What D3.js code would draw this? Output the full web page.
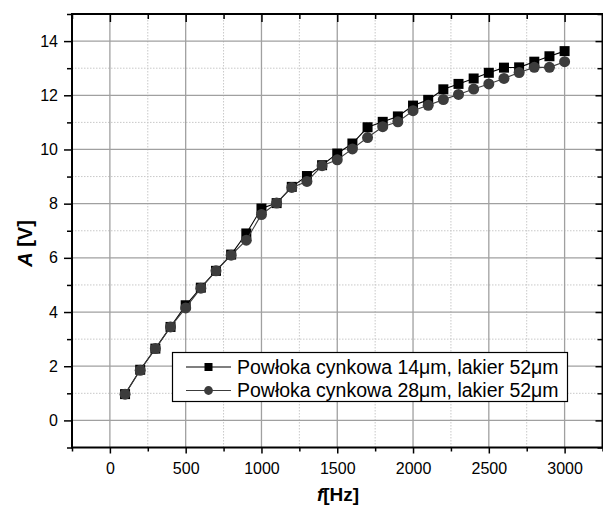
<!DOCTYPE html>
<html>
<head>
<meta charset="utf-8">
<script src="https://cdn.jsdelivr.net/npm/d3@7"></script>
<style>
  body { margin: 0; background: #fff; }
  svg { display: block; font-family: "Liberation Sans", Arial, sans-serif; }
</style>
</head>
<body>
<svg id="chart" width="603" height="506"></svg>
<script>
// Measured signal amplitude versus excitation frequency for two coatings
const frequencies = [100, 200, 300, 400, 500, 600, 700, 800, 900, 1000,
                     1100, 1200, 1300, 1400, 1500, 1600, 1700, 1800, 1900, 2000,
                     2100, 2200, 2300, 2400, 2500, 2600, 2700, 2800, 2900, 3000];
const zinc14 = [0.97, 1.87, 2.65, 3.45, 4.25, 4.90, 5.52, 6.12, 6.90, 7.82,
                8.02, 8.62, 9.02, 9.42, 9.85, 10.22, 10.82, 11.02, 11.22, 11.62,
                11.83, 12.22, 12.42, 12.62, 12.83, 13.02, 13.03, 13.24, 13.44, 13.63];
const zinc28 = [0.97, 1.85, 2.65, 3.45, 4.15, 4.88, 5.52, 6.10, 6.65, 7.60,
                8.02, 8.60, 8.82, 9.40, 9.62, 10.02, 10.44, 10.84, 11.02, 11.43,
                11.63, 11.84, 12.03, 12.23, 12.42, 12.62, 12.84, 13.03, 13.03, 13.24];
const seriesNames = ["Powłoka cynkowa 14μm, lakier 52μm",
                     "Powłoka cynkowa 28μm, lakier 52μm"];
const xMajorTicks = [0, 500, 1000, 1500, 2000, 2500, 3000];
const xMinorTicks = [-250, 250, 750, 1250, 1750, 2250, 2750, 3250];
const yMajorTicks = [0, 2, 4, 6, 8, 10, 12, 14];
const yMinorTicks = [-1, 1, 3, 5, 7, 9, 11, 13, 15];
const xDomain = [-250, 3250];
const yDomain = [-1, 15];

const svg = d3.select("#chart");
const plotLeft = 72, plotRight = 602.5, plotTop = 14, plotBottom = 447.5;
const fontFamily = "'Liberation Sans', Arial, sans-serif";

const x = d3.scaleLinear().domain(xDomain).range([plotLeft, plotRight]);
const y = d3.scaleLinear().domain(yDomain).range([plotBottom, plotTop]);

// grid: dotted minor lines, solid major lines
const grid = svg.append("g");
grid.selectAll(".vminor").data(xMinorTicks.filter(d => d > xDomain[0] && d < xDomain[1]))
  .join("line").attr("x1", d => x(d)).attr("x2", d => x(d)).attr("y1", plotTop).attr("y2", plotBottom)
  .attr("stroke", "#c8c8c8").attr("stroke-width", 1).attr("stroke-dasharray", "1.5,1.5");
grid.selectAll(".hminor").data(yMinorTicks.filter(d => d > yDomain[0] && d < yDomain[1]))
  .join("line").attr("y1", d => y(d)).attr("y2", d => y(d)).attr("x1", plotLeft).attr("x2", plotRight)
  .attr("stroke", "#c8c8c8").attr("stroke-width", 1).attr("stroke-dasharray", "1.5,1.5");
grid.selectAll(".vmajor").data(xMajorTicks)
  .join("line").attr("x1", d => x(d)).attr("x2", d => x(d)).attr("y1", plotTop).attr("y2", plotBottom)
  .attr("stroke", "#a0a0a0").attr("stroke-width", 1.3);
grid.selectAll(".hmajor").data(yMajorTicks)
  .join("line").attr("y1", d => y(d)).attr("y2", d => y(d)).attr("x1", plotLeft).attr("x2", plotRight)
  .attr("stroke", "#a0a0a0").attr("stroke-width", 1.3);

// axes: left and bottom ticks point out, top and right ticks point in
function styleAxis(g) {
  g.select(".domain").remove();
  g.selectAll(".tick line").attr("stroke", "#000").attr("stroke-width", 1.5);
  g.selectAll(".tick text").attr("fill", "#000").style("font-size", "16px")
    .style("font-family", fontFamily);
}

svg.append("g").attr("transform", `translate(0,${plotBottom})`)
  .call(d3.axisBottom(x).tickValues(xMajorTicks).tickSize(6).tickPadding(9).tickFormat(d3.format("d")))
  .call(styleAxis);
svg.append("g").attr("transform", `translate(0,${plotBottom})`)
  .call(d3.axisBottom(x).tickValues(xMinorTicks).tickSize(4).tickFormat(""))
  .call(styleAxis);
svg.append("g").attr("transform", `translate(${plotLeft},0)`)
  .call(d3.axisLeft(y).tickValues(yMajorTicks).tickSize(8).tickPadding(6).tickFormat(d3.format("d")))
  .call(styleAxis);
svg.append("g").attr("transform", `translate(${plotLeft},0)`)
  .call(d3.axisLeft(y).tickValues(yMinorTicks).tickSize(5).tickFormat(""))
  .call(styleAxis);
svg.append("g").attr("transform", `translate(0,${plotTop})`)
  .call(d3.axisBottom(x).tickValues(xMajorTicks).tickSize(8).tickFormat(""))
  .call(styleAxis);
svg.append("g").attr("transform", `translate(0,${plotTop})`)
  .call(d3.axisBottom(x).tickValues(xMinorTicks).tickSize(5).tickFormat(""))
  .call(styleAxis);
svg.append("g").attr("transform", `translate(${plotRight},0)`)
  .call(d3.axisRight(y).tickValues(yMajorTicks).tickSize(-7).tickFormat(""))
  .call(styleAxis);
svg.append("g").attr("transform", `translate(${plotRight},0)`)
  .call(d3.axisRight(y).tickValues(yMinorTicks).tickSize(-5).tickFormat(""))
  .call(styleAxis);

// frame
svg.append("rect").attr("x", plotLeft).attr("y", plotTop)
  .attr("width", plotRight - plotLeft).attr("height", plotBottom - plotTop)
  .attr("fill", "none").attr("stroke", "#000").attr("stroke-width", 2);

// series
const series = [
  { name: seriesNames[0], values: zinc14, color: "#000000", marker: "square" },
  { name: seriesNames[1], values: zinc28, color: "#3c3c3c", marker: "circle" }
];
const line = d3.line().x(d => x(d[0])).y(d => y(d[1]));

function drawMarker(sel, s, cx, cy, size) {
  if (s.marker === "square") {
    sel.append("rect").attr("x", cx - size / 2).attr("y", cy - size / 2)
      .attr("width", size).attr("height", size).attr("fill", s.color);
  } else {
    sel.append("circle").attr("cx", cx).attr("cy", cy).attr("r", size * 0.55).attr("fill", s.color);
  }
}

series.forEach(s => {
  const pts = frequencies.map((f, i) => [f, s.values[i]]);
  const g = svg.append("g");
  g.append("path").datum(pts).attr("d", line)
    .attr("fill", "none").attr("stroke", s.color).attr("stroke-width", 1.1);
  pts.forEach(p => drawMarker(g, s, x(p[0]), y(p[1]), 10));
});

// legend
const lg = svg.append("g");
lg.append("rect").attr("x", 172.5).attr("y", 352.5).attr("width", 395).attr("height", 49)
  .attr("fill", "#fff").attr("stroke", "#000").attr("stroke-width", 1.2);
series.forEach((s, i) => {
  const cy = 367 + i * 23.5;
  lg.append("line").attr("x1", 186).attr("x2", 231).attr("y1", cy).attr("y2", cy)
    .attr("stroke", s.color).attr("stroke-width", 1.1);
  drawMarker(lg, s, 208.5, cy, 8);
  lg.append("text").attr("x", 237).attr("y", cy + 6.5).attr("fill", "#000")
    .style("font-size", "19.5px").style("font-family", fontFamily).text(s.name);
});

// axis titles
const xt = svg.append("text").attr("x", 338).attr("y", 501).attr("text-anchor", "middle")
  .style("font-size", "19px").style("font-weight", "bold").style("font-family", fontFamily);
xt.append("tspan").style("font-style", "italic").text("f");
xt.append("tspan").text("[Hz]");

const yt = svg.append("text").attr("transform", "translate(32,243.5) rotate(-90)")
  .attr("text-anchor", "middle").style("font-size", "20px").style("font-weight", "bold")
  .style("font-family", fontFamily);
yt.append("tspan").style("font-style", "italic").text("A");
yt.append("tspan").text(" [V]");
</script>
</body>
</html>
